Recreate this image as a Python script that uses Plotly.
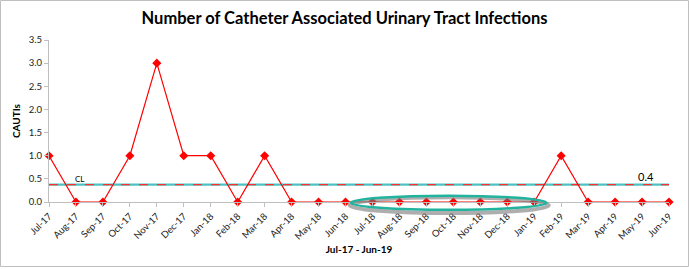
import plotly.graph_objects as go

months = ["Jul-17","Aug-17","Sep-17","Oct-17","Nov-17","Dec-17","Jan-18","Feb-18","Mar-18","Apr-18",
          "May-18","Jun-18","Jul-18","Aug-18","Sep-18","Oct-18","Nov-18","Dec-18","Jan-19","Feb-19",
          "Mar-19","Apr-19","May-19","Jun-19"]
cauti = [1,0,0,1,3,1,1,0,1,0,0,0,0,0,0,0,0,0,0,1,0,0,0,0]
cl_value = 0.375
cl_label = "0.4"

W, H = 689, 269
L, R, T, B = 49, 20, 40, 67
pw, ph = W - L - R, H - T - B
n = len(months)
ymax = 3.5

def px_x(px):
    return (px - L) / pw

def px_y(py):
    return (H - B - py) / ph

fig = go.Figure()
fig.add_trace(go.Scatter(x=months, y=[cl_value]*n, mode="lines",
                         line=dict(color="#4fc1c1", width=2.2), hoverinfo="skip", cliponaxis=False))
fig.add_trace(go.Scatter(x=months, y=[cl_value]*n, mode="lines",
                         line=dict(color="#ff3030", width=1.2, dash="dash"), hoverinfo="skip", cliponaxis=False))
fig.add_trace(go.Scatter(x=months, y=cauti, mode="lines+markers",
                         line=dict(color="#ff0000", width=1.2),
                         marker=dict(symbol="diamond", size=7, color="#ff0000"),
                         cliponaxis=False))

# highlight ellipse (annotation shape)
ex0, ex1 = 11.2 / (n - 1), 18.45 / (n - 1)
ey0, ey1 = -0.17 / ymax, 0.135 / ymax
fig.add_shape(type="circle", xref="paper", yref="paper",
              x0=ex0 - 0.002, x1=ex1 + 0.004, y0=ey0 - 0.02, y1=ey1 - 0.01,
              line=dict(color="rgba(120,120,120,0.6)", width=4), layer="above")
fig.add_shape(type="circle", xref="paper", yref="paper",
              x0=ex0, x1=ex1, y0=ey0, y1=ey1,
              line=dict(color="#22b39f", width=2.5), layer="above")

# outer border
fig.add_shape(type="rect", xref="paper", yref="paper",
              x0=px_x(0.5), x1=px_x(688.5), y0=px_y(266.5), y1=px_y(0.5),
              line=dict(color="#bfbfbf", width=1), layer="below")

fig.add_annotation(x=months[-1], y=cl_value, text=cl_label, showarrow=False,
                   xanchor="center", yanchor="bottom", xshift=-23, yshift=0,
                   font=dict(family="Lato, Carlito, Arial", size=11, color="#000"))
fig.add_annotation(x=months[1], y=cl_value, text="CL", showarrow=False,
                   xanchor="center", yanchor="bottom", xshift=4, yshift=-1,
                   font=dict(family="Lato, Arial", size=8, color="#000"))

fig.update_layout(
    width=W, height=H,
    margin=dict(l=L, r=R, t=T, b=B, autoexpand=False),
    paper_bgcolor="white", plot_bgcolor="white",
    showlegend=False,
    title=dict(text="<b>Number of Catheter Associated Urinary Tract Infections</b>",
               x=0.5, xref="container", yref="container", y=1 - 18/H, yanchor="middle",
               xanchor="center",
               font=dict(family="Lato, Carlito, Arial", size=16.5, color="#000")),
    xaxis=dict(type="category", range=[0, n - 1], showgrid=False, automargin=False,
               showline=True, linecolor="#bfbfbf", linewidth=1,
               ticks="outside", ticklen=4, tickcolor="#bfbfbf", tickangle=-45,
               tickfont=dict(family="Lato, Carlito, Arial", size=9.5, color="#222"),
               title=dict(text="<b>Jul-17 - Jun-19</b>", standoff=5,
                          font=dict(family="Lato, Carlito, Arial", size=10, color="#000"))),
    yaxis=dict(range=[0, ymax], dtick=0.5, tickformat=".1f", showgrid=False, zeroline=False,
               showline=True, linecolor="#bfbfbf", linewidth=1, automargin=False,
               ticks="outside", ticklen=4, tickcolor="#bfbfbf",
               tickfont=dict(family="Lato, Carlito, Arial", size=9.5, color="#222"),
               title=dict(text="<b>CAUTIs</b>", standoff=6,
                          font=dict(family="Lato, Carlito, Arial", size=10, color="#000"))),
)

fig.write_html("out.html", config={"displayModeBar": False},
               post_script="document.body.style.margin='0';")
